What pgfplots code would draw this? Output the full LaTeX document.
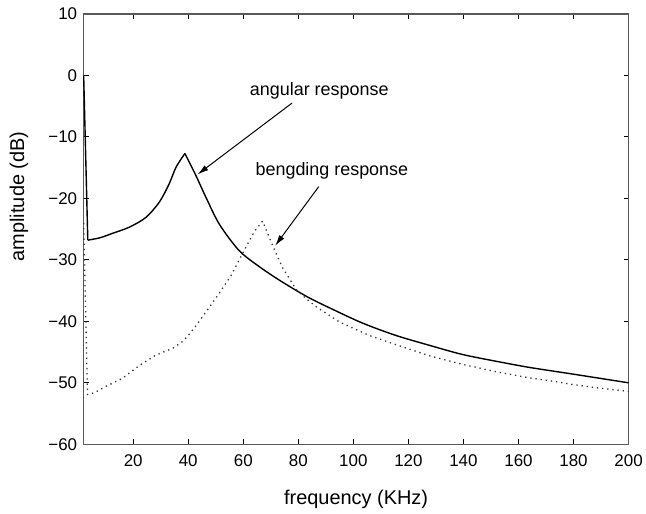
\documentclass[border=0pt]{standalone}
\usepackage{fontspec}
\setmainfont{Liberation Sans}
\usepackage{pgfplots}
\pgfplotsset{compat=1.18}
\usetikzlibrary{arrows.meta}
\begin{document}
\begin{tikzpicture}
\begin{axis}[
  scale only axis, width=547pt, height=432pt,
  xmin=2, xmax=200, ymin=-60, ymax=10,
  xtick={20,40,...,200},
  ytick={-60,-50,...,10},
  yticklabels={−60,−50,−40,−30,−20,−10,0,10},
  tick align=inside, tick pos=both,
  major tick length=5pt,
  axis line style={line width=1.3pt, black!65},
  tick style={line width=1pt, black},
  /pgf/number format/assume math mode=true,
  ticklabel style={font=\fontsize{17}{20}\selectfont},
  xticklabel style={yshift=-7pt},
  yticklabel style={xshift=-3pt},
  label style={font=\fontsize{20}{24}\selectfont},
  xlabel={frequency (KHz)},
  ylabel={amplitude (dB)},
  xlabel style={at={(axis description cs:0.5,-0.1405)}, anchor=base},
  ylabel style={at={(axis description cs:-0.1188,0.576)}, anchor=center},
  clip=false,
]
% angular response (solid)
\addplot[black, line width=1.4pt] coordinates {(2,0) (3.5,-26.8)};
\addplot[black, line width=1.4pt, smooth, tension=0.5] coordinates {
(3.5,-26.8) (8,-26.4) (12.4,-25.7) (18.5,-24.7) (24.6,-23.1) (29.5,-20.6)
(33,-17.7) (35.6,-14.9) (38.8,-12.7)
};
\addplot[black, line width=1.4pt, smooth, tension=0.5] coordinates {
(38.8,-12.7) (42.8,-16.3) (46.4,-19.8) (51.3,-24.2) (58.5,-28.5)
(65.8,-31.1) (73.1,-33.3) (82.8,-35.9) (91.3,-37.8) (103.4,-40.3)
(115.5,-42.3) (127.6,-43.9) (139.7,-45.4) (151.9,-46.5) (164,-47.5)
(180,-48.6) (200,-50.0)
};
% bending response (dotted)
\addplot[black!80, line width=1.3pt, dash pattern=on 1.3pt off 3.9pt] coordinates {
(2,-24) (3.4,-51.9) (6,-51.6) (10,-50.6) (16,-49.3) (22.2,-47.2) (28.2,-45.5)
(34.3,-44.4) (37.9,-43.3) (40,-42.3) (43,-40.6) (46.4,-38.5) (51.3,-35.4)
(55.5,-32.6) (61,-27.9) (64,-25.4) (67,-23.7) (70.7,-27.7) (74.3,-31.3)
(79.2,-34.8) (82.8,-36.3) (86.4,-37.6) (94.9,-40.1) (105.8,-42.3)
(115.5,-43.8) (127.6,-45.6) (139.7,-47.0) (151.9,-48.2) (164,-49.2)
(172,-49.7) (180,-50.3) (190,-50.9) (200,-51.4)
};
\node[font=\fontsize{18}{21}\selectfont, anchor=base] at (axis cs:87.6,-3.3) {angular response};
\node[font=\fontsize{18}{21}\selectfont, anchor=base] at (axis cs:92.2,-16.3) {bengding response};
\draw[-{Latex[length=11pt,width=6pt]}, line width=1pt] (axis cs:77.7,-4.5) -- (axis cs:43.4,-16.1);
\draw[-{Latex[length=11pt,width=6pt]}, line width=1pt] (axis cs:87.4,-18.1) -- (axis cs:71.6,-27.7);
\end{axis}
\path (current axis.south west) ++(-84pt,-69pt) rectangle ++(646pt,515pt);
\end{tikzpicture}
\end{document}
